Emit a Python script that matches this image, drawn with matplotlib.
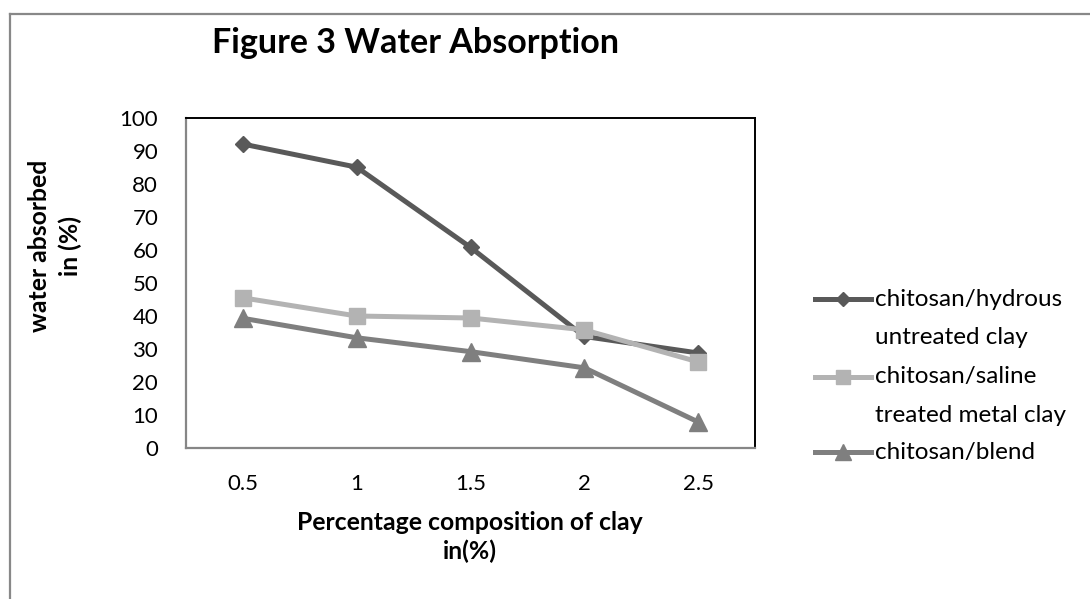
import matplotlib
matplotlib.use("Agg")
import matplotlib.pyplot as plt
from matplotlib.lines import Line2D

plt.rcParams['font.family'] = ['Lato', 'DejaVu Sans']

# ---- data ----
categories = ['0.5', '1', '1.5', '2', '2.5']
series_names = [['chitosan/hydrous', 'untreated clay'],
                ['chitosan/saline', 'treated metal clay'],
                ['chitosan/blend']]
hydrous_untreated = [92.1, 85.1, 60.8, 33.8, 28.8]
saline_treated = [45.5, 40.0, 39.4, 35.8, 26.1]
blend = [39.3, 33.4, 29.2, 24.3, 7.9]
y_ticks = [0, 10, 20, 30, 40, 50, 60, 70, 80, 90, 100]

W, H = 1090, 599
fig = plt.figure(figsize=(W / 100, H / 100), dpi=100)
fig.patch.set_facecolor('white')

def fx(px):
    return px / W

def fy(py):
    return 1 - py / H

# outer chart border (top and left visible)
fig.add_artist(Line2D([fx(9.5), fx(W)], [fy(13.5), fy(13.5)], color='#888888', lw=1.6))
fig.add_artist(Line2D([fx(9.5), fx(9.5)], [fy(13.5), fy(H)], color='#888888', lw=1.6))

ax = fig.add_axes([fx(186), fy(448), (755 - 186) / W, (448 - 118) / H])
x = list(range(len(categories)))

styles = [
    dict(color='#595959', marker='D', ms=8.5, mfc='#595959', mec='#595959'),
    dict(color='#B3B3B3', marker='s', ms=12, mfc='#B3B3B3', mec='#B3B3B3'),
    dict(color='#7F7F7F', marker='^', ms=13, mfc='#7F7F7F', mec='#7F7F7F'),
]
data = [hydrous_untreated, saline_treated, blend]
for vals, st in zip(data, styles):
    ax.plot(x, vals, lw=3.6, solid_joinstyle='round', solid_capstyle='round', clip_on=False, **st)

ax.set_xlim(-0.5, len(categories) - 0.5)
ax.set_ylim(0, 100)
ax.set_xticks(x)
ax.set_xticklabels(categories)
ax.set_yticks(y_ticks)
ax.tick_params(axis='both', length=0, labelsize=16, colors='black')
ax.tick_params(axis='y', pad=20)
ax.tick_params(axis='x', pad=18.5)

for s in ['top', 'right']:
    ax.spines[s].set_color('black')
    ax.spines[s].set_linewidth(1.4)
for s in ['left', 'bottom']:
    ax.spines[s].set_color('#868686')
    ax.spines[s].set_linewidth(1.6)

# title
fig.text(fx(415), fy(53), 'Figure 3 Water Absorption', ha='center', va='baseline',
         fontsize=24.5, fontweight='bold')

# axis labels
fig.text(fx(470), fy(537), 'Percentage composition of clay\nin(%)', ha='center', va='center',
         fontsize=17.8, fontweight='bold', linespacing=1.3, multialignment='center')
fig.text(fx(55), fy(246), 'water absorbed\nin (%)', ha='center', va='center', rotation=90,
         fontsize=17.8, fontweight='bold', linespacing=1.42, multialignment='center')

# legend (manual, Excel-like: handle aligned with first line of text)
leg_y = [299, 377, 452]
leg_ms = [7, 10, 12]
line_gap = 38
for lines, st, yy, lms in zip(series_names, styles, leg_y, leg_ms):
    st2 = dict(st)
    st2['ms'] = lms
    fig.add_artist(Line2D([fx(815), fx(843), fx(871)], [fy(yy), fy(yy), fy(yy)], lw=3.6,
                          markevery=[1], **st2))
    for i, txt in enumerate(lines):
        fig.text(fx(875), fy(yy + i * line_gap), txt, ha='left', va='center', fontsize=17.5)

fig.savefig('out.png', dpi=100, facecolor='white')
